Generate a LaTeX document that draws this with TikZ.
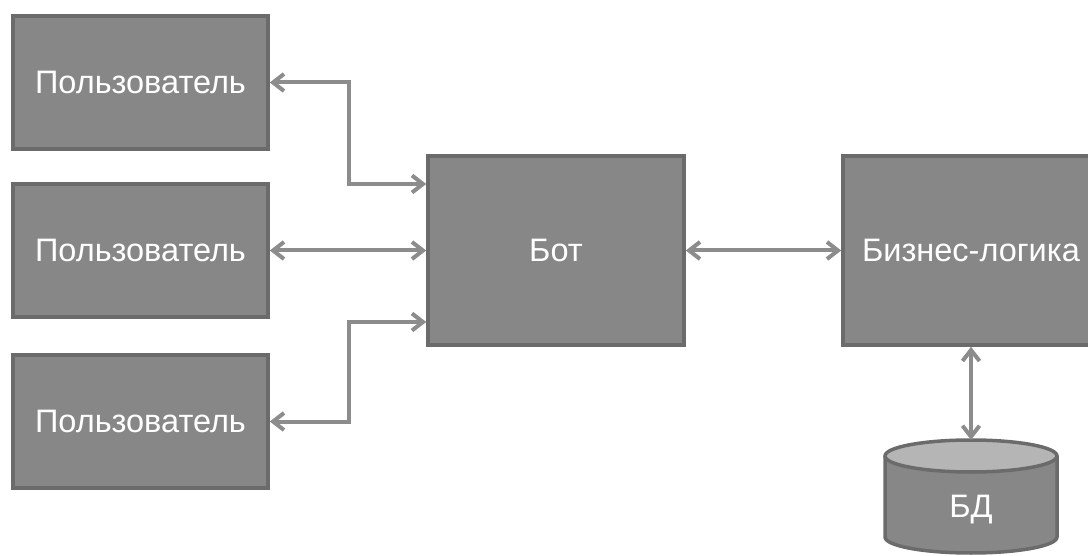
\documentclass[tikz,border=0pt]{standalone}
\usepackage{fontspec}
\setmainfont{Liberation Sans}
\usetikzlibrary{arrows.meta,calc}
\definecolor{boxfill}{HTML}{878787}
\definecolor{boxline}{HTML}{6B6B6B}
\definecolor{connline}{HTML}{8C8C8C}
\definecolor{dbtop}{HTML}{B5B5B5}
\tikzset{
  block/.style={rectangle, fill=boxfill, draw=boxline, line width=3.5pt,
    text=white, font=\fontsize{32.5}{38}\selectfont, inner sep=0pt},
  userbox/.style={block, minimum width=255pt, minimum height=133pt},
  bigbox/.style={block, minimum width=256pt, minimum height=189pt},
  conn/.style={draw=connline, line width=4pt,
    {Straight Barb[length=11pt,width=17pt]}-{Straight Barb[length=11pt,width=17pt]}},
  dbcap/.style={fill=dbtop, draw=boxline, line width=3.5pt}
}
\begin{document}
\begin{tikzpicture}[x=1pt,y=-1pt]
  \clip (0,0) rectangle (1088,556);
  \useasboundingbox (0,0) rectangle (1088,556);

  % users, bot and business logic
  \node[userbox] (u1) at (140.5,82.5) {Пользователь};
  \node[userbox] (u2) at (140.5,250.5) {Пользователь};
  \node[userbox] (u3) at (140.5,421.5) {Пользователь};
  \node[bigbox] (bot) at (556,250.5) {Бот};
  \node[bigbox] (biz) at (971,250.5) {Бизнес-логика};

  % database cylinder
  \fill[boxfill] (885,456) -- (885,537)
    arc[start angle=180, end angle=0, x radius=86, y radius=16] -- (1057,456) -- cycle;
  \draw[boxline, line width=3.5pt] (885,456) -- (885,537)
    arc[start angle=180, end angle=0, x radius=86, y radius=16] -- (1057,456);
  \draw[dbcap] (971,456) ellipse[x radius=86, y radius=16];
  \coordinate (dbin) at (971,440);
  \node[text=white, font=\fontsize{32.5}{38}\selectfont, inner sep=0pt] (db) at (971,510) {БД};

  % connectors
  \coordinate (bx) at (349,0);
  \coordinate (in1) at ($(bot.west)+(0,-66.5)$);
  \coordinate (in3) at ($(bot.west)+(0,71.5)$);
  \draw[conn] (u1.east) -| (in1 -| bx) -- (in1);
  \draw[conn] (u2.east) -- (bot.west);
  \draw[conn] (u3.east) -| (in3 -| bx) -- (in3);
  \draw[conn] (bot.east) -- (biz.west);
  \draw[conn] (biz.south) -- (dbin);
\end{tikzpicture}
\end{document}
